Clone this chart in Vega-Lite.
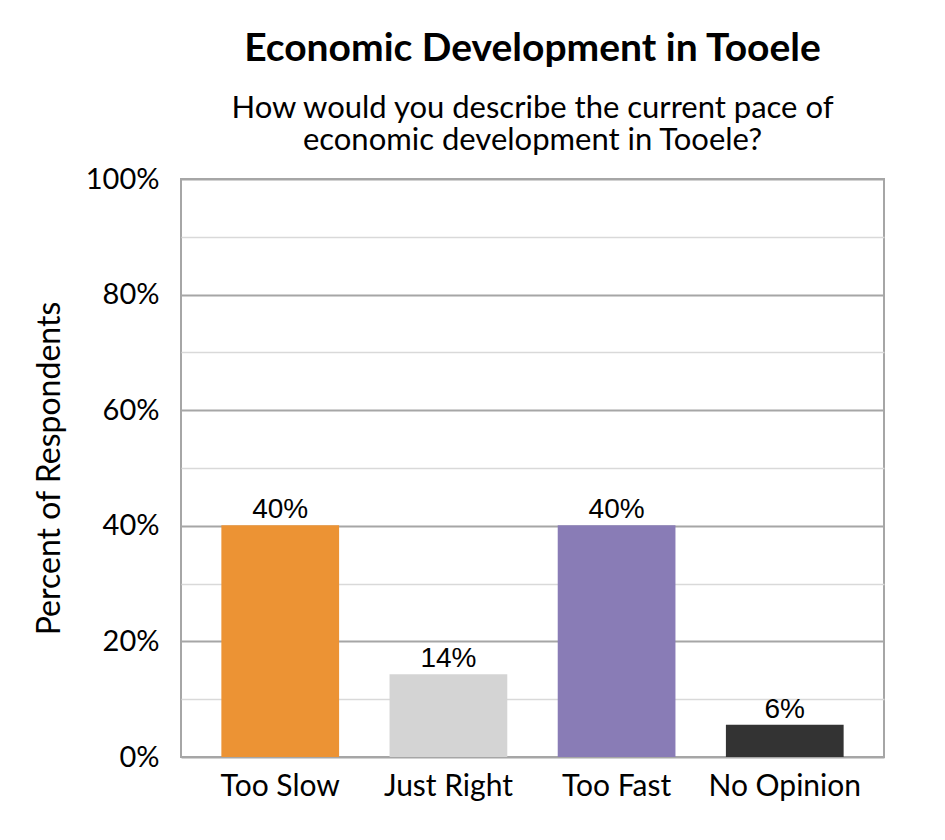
{
  "$schema": "https://vega.github.io/schema/vega-lite/v6.json",
  "width": 703,
  "height": 578,
  "autosize": "none",
  "padding": {"left": 181, "top": 179, "right": 61, "bottom": 83},
  "background": "white",
  "config": {
    "font": "Lato",
    "view": {"stroke": "#a6a6a6", "strokeWidth": 2}
  },
  "title": {
    "text": "Economic Development in Tooele",
    "subtitle": ["How would you describe the current pace of", "economic development in Tooele?"],
    "anchor": "middle",
    "frame": "group",
    "font": "Lato",
    "fontSize": 39,
    "fontWeight": "bold",
    "color": "black",
    "subtitleFont": "Lato",
    "subtitleFontSize": 31,
    "subtitleColor": "black",
    "subtitleLineHeight": 32,
    "subtitlePadding": 25,
    "offset": 9
  },
  "data": {
    "values": [
      {"answer": "Too Slow", "pct": 40.1, "label": "40%"},
      {"answer": "Just Right", "pct": 14.3, "label": "14%"},
      {"answer": "Too Fast", "pct": 40.1, "label": "40%"},
      {"answer": "No Opinion", "pct": 5.6, "label": "6%"}
    ]
  },
  "encoding": {
    "x": {
      "field": "answer",
      "type": "nominal",
      "sort": null,
      "scale": {"paddingInner": 0.3, "paddingOuter": 0.24},
      "axis": {
        "title": null,
        "labelAngle": 0,
        "labelFont": "Lato",
        "labelFontSize": 30,
        "labelColor": "black",
        "labelPadding": 14,
        "ticks": false,
        "domain": false
      }
    },
    "y": {
      "field": "pct",
      "type": "quantitative",
      "scale": {"domain": [0, 100]}
    }
  },
  "layer": [
    {
      "mark": {"type": "bar"},
      "encoding": {
        "y": {
          "field": "pct",
          "type": "quantitative",
          "scale": {"domain": [0, 100]},
          "axis": {
            "title": "Percent of Respondents",
            "titleFont": "Lato",
            "titleFontSize": 32,
            "titleFontWeight": "normal",
            "titleColor": "black",
            "titlePadding": 19,
            "values": [0, 20, 40, 60, 80, 100],
            "labelExpr": "datum.value + '%'",
            "labelFont": "Lato",
            "labelFontSize": 29,
            "labelColor": "black",
            "labelPadding": 22,
            "ticks": false,
            "domain": false,
            "grid": true,
            "gridColor": "#a6a6a6",
            "gridWidth": 2
          }
        },
        "color": {
          "field": "answer",
          "type": "nominal",
          "legend": null,
          "scale": {
            "domain": ["Too Slow", "Just Right", "Too Fast", "No Opinion"],
            "range": ["#ec9334", "#d4d4d4", "#897cb6", "#333333"]
          }
        }
      }
    },
    {
      "mark": {"type": "text", "baseline": "bottom", "dy": -1, "font": "Liberation Sans", "fontSize": 28, "color": "black"},
      "encoding": {
        "y": {
          "field": "pct",
          "type": "quantitative",
          "scale": {"domain": [0, 100]},
          "axis": {
            "orient": "left",
            "title": null,
            "labels": false,
            "ticks": false,
            "domain": false,
            "values": [10, 30, 50, 70, 90],
            "grid": true,
            "gridColor": "#d9d9d9",
            "gridWidth": 1.5
          }
        },
        "text": {"field": "label"}
      }
    }
  ],
  "resolve": {"axis": {"y": "independent"}}
}
